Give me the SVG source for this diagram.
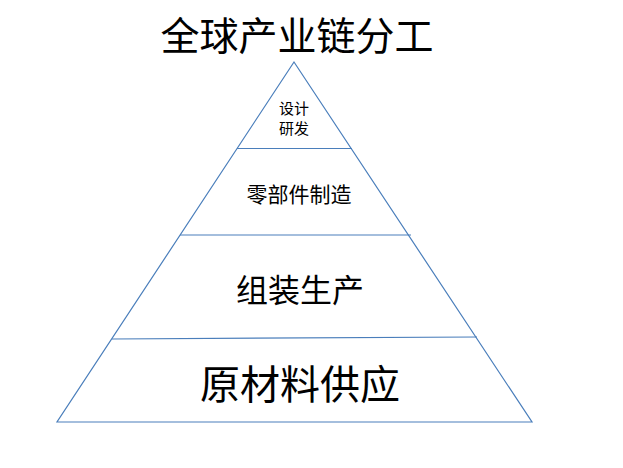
<svg xmlns="http://www.w3.org/2000/svg" width="623" height="468" viewBox="0 0 623 468">
<style>
.ln{stroke:#4a7ebb;stroke-width:1.2;fill:none}
.t{font-family:"Noto Sans CJK SC","Noto Sans",sans-serif;fill:#000;text-anchor:middle}
</style>
<rect width="623" height="468" fill="#fff"/>
<g id="title"><text class="t" x="297" y="50" font-size="39">全球产业链分工</text></g>
<g id="connectors">
<polygon class="ln" points="294,62 57,422 532,422"/>
<line class="ln" x1="237" y1="148.5" x2="352" y2="148.5"/>
<line class="ln" x1="180" y1="235" x2="411" y2="235"/>
<line class="ln" x1="112" y1="339" x2="477" y2="337"/>
</g>
<g id="layer1"><text class="t" x="294" y="114" font-size="15">设计</text><text class="t" x="294" y="134" font-size="15">研发</text></g>
<g id="layer2"><text class="t" x="299" y="202" font-size="21" fill="#222">零部件制造</text></g>
<g id="layer3"><text class="t" x="300" y="302" font-size="32">组装生产</text></g>
<g id="layer4"><text class="t" x="300" y="399" font-size="40">原材料供应</text></g>
</svg>
